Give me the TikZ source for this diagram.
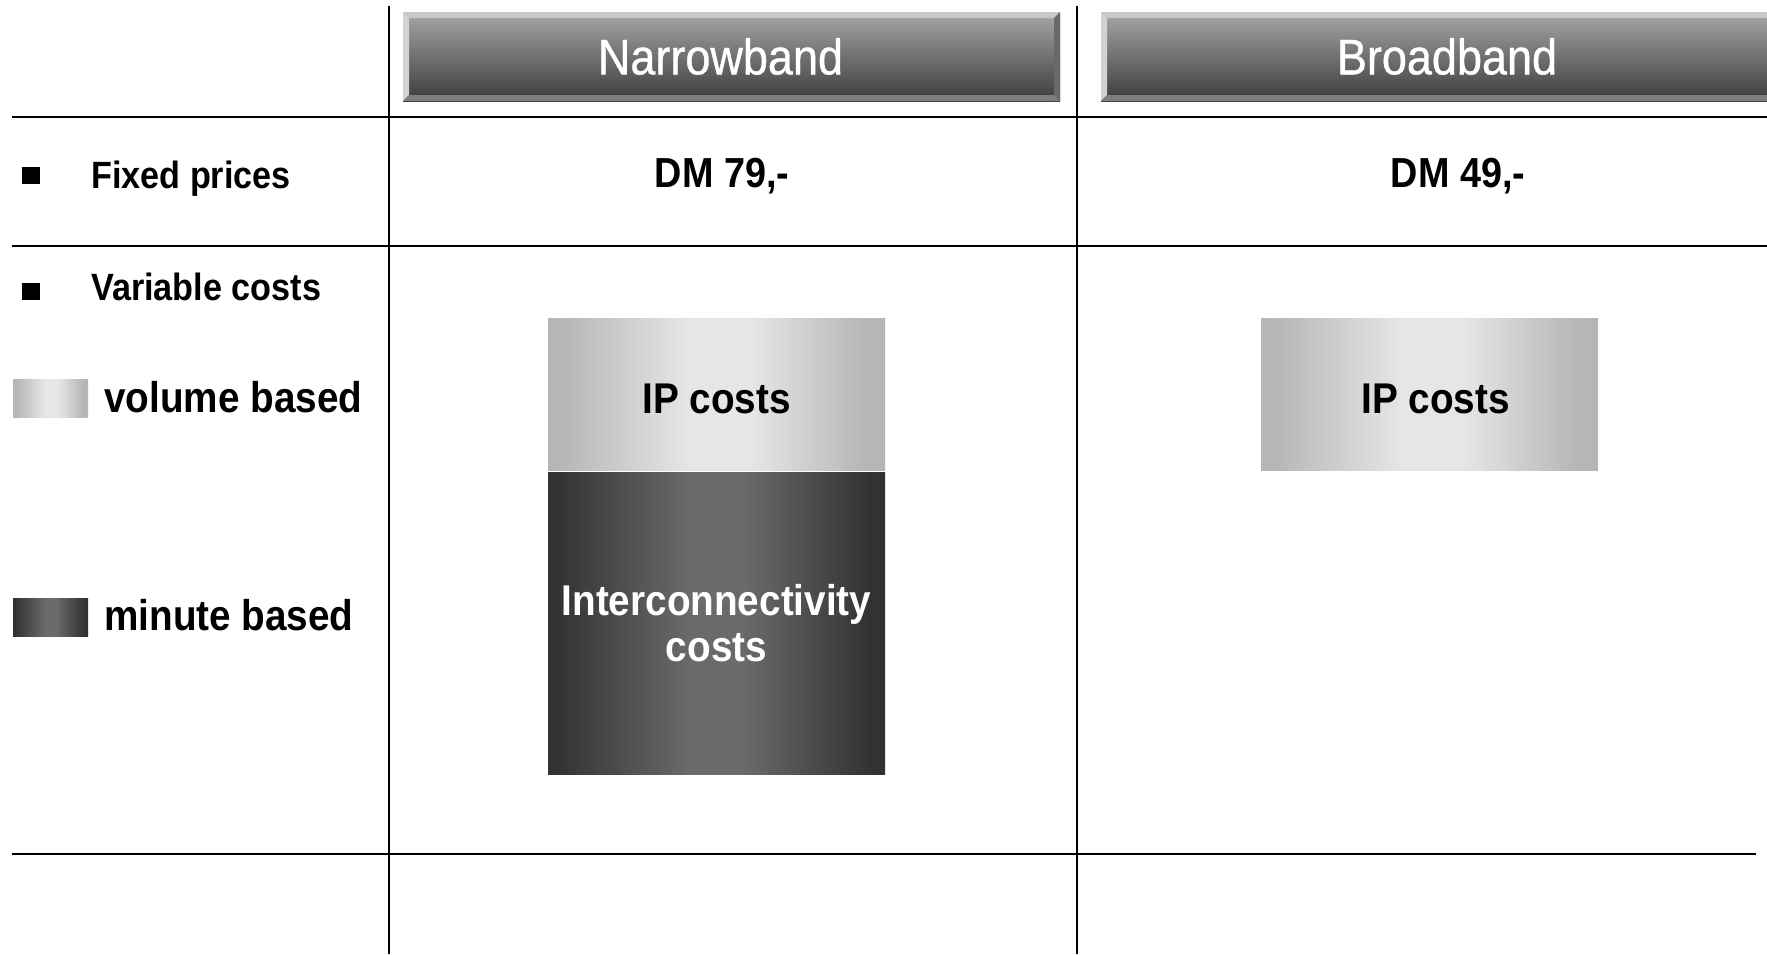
\documentclass[tikz,border=0pt]{standalone}
\usepackage{fontspec}
\setmainfont{Liberation Sans}[FakeStretch=0.9]
\newfontfamily\hdrfont{Liberation Sans}[FakeStretch=0.9, FakeBold=0.8]
\usetikzlibrary{positioning}
\definecolor{hdrtop}{RGB}{166,166,166}
\definecolor{hdrbot}{RGB}{60,60,60}
\definecolor{bevtop}{RGB}{200,200,200}
\definecolor{bevleft}{RGB}{210,210,210}
\definecolor{bevbot}{RGB}{125,125,125}
\definecolor{bevright}{RGB}{105,105,105}
\definecolor{ipedge}{RGB}{182,182,182}
\definecolor{ipmid}{RGB}{230,230,230}
\definecolor{icedge}{RGB}{50,50,50}
\definecolor{icmid}{RGB}{106,106,106}

\pgfdeclarehorizontalshading{volshade}{100bp}{color(0bp)=(ipedge); color(27bp)=(ipedge);
  color(46bp)=(ipmid); color(55bp)=(ipmid); color(72bp)=(ipedge); color(100bp)=(ipedge)}
\pgfdeclarehorizontalshading{minshade}{100bp}{color(0bp)=(icedge); color(26bp)=(icedge);
  color(46bp)=(icmid); color(54bp)=(icmid); color(73bp)=(icedge); color(100bp)=(icedge)}

\tikzset{
  gridline/.style={line width=2.5pt, black},
  hdrbox/.style={minimum height=89pt, inner sep=0pt, top color=hdrtop, bottom color=hdrbot,
    text=white, font=\hdrfont\fontsize{50}{56}\selectfont,
    path picture={
      \fill[bevtop] (path picture bounding box.north west) -- (path picture bounding box.north east)
        -- ([xshift=-6pt,yshift=-6pt]path picture bounding box.north east)
        -- ([xshift=6pt,yshift=-6pt]path picture bounding box.north west) -- cycle;
      \fill[bevleft] (path picture bounding box.north west) -- (path picture bounding box.south west)
        -- ([xshift=6pt,yshift=6pt]path picture bounding box.south west)
        -- ([xshift=6pt,yshift=-6pt]path picture bounding box.north west) -- cycle;
      \fill[bevbot] (path picture bounding box.south west) -- (path picture bounding box.south east)
        -- ([xshift=-6pt,yshift=6pt]path picture bounding box.south east)
        -- ([xshift=6pt,yshift=6pt]path picture bounding box.south west) -- cycle;
      \fill[bevright] (path picture bounding box.north east) -- (path picture bounding box.south east)
        -- ([xshift=-6pt,yshift=6pt]path picture bounding box.south east)
        -- ([xshift=-6pt,yshift=-6pt]path picture bounding box.north east) -- cycle;
    }},
  rowlabel/.style={anchor=base west, inner sep=0pt, font=\bfseries\fontsize{38}{42}\selectfont},
  bulletsq/.style={fill=black, inner sep=0pt, minimum width=18pt, minimum height=17pt},
  legendtxt/.style={anchor=base west, inner sep=0pt, font=\bfseries\fontsize{43}{47}\selectfont},
  price/.style={anchor=base, inner sep=0pt, font=\bfseries\fontsize{42}{46}\selectfont},
  volbox/.style={inner sep=0pt, shading=volshade},
  minbox/.style={inner sep=0pt, shading=minshade},
  costtxt/.style={align=center, font=\bfseries\fontsize{43}{46}\selectfont}
}

\begin{document}
\begin{tikzpicture}[x=1pt, y=-1pt]
  \useasboundingbox (0,0) rectangle (1767,954);

  % table rules
  \draw[gridline] (389,6) -- (389,954);
  \draw[gridline] (1077,6) -- (1077,954);
  \draw[gridline] (12,117) -- (1767,117);
  \draw[gridline] (12,246) -- (1767,246);
  \draw[gridline] (12,854) -- (1756,854);

  % column heads
  \node[hdrbox, minimum width=657pt] (narrow) at (731.5,56.5) {\hspace*{-22pt}Narrowband};
  \node[hdrbox, minimum width=692pt] (broad) at (1447,56.5) {Broadband};

  % row heads
  \node[bulletsq] (fixbul) at (31,175) {};
  \node[rowlabel] (fixed) at (91,188) {Fixed prices};
  \node[bulletsq] (varbul) at (31,291) {};
  \node[rowlabel] (variable) at (91,300) {Variable costs};

  % legend
  \node[volbox, minimum width=75pt, minimum height=38pt] (volkey) at (50.5,398) {};
  \node[legendtxt] (voltxt) at (104,412) {volume based};
  \node[minbox, minimum width=75pt, minimum height=38pt] (minkey) at (50.5,617) {};
  \node[legendtxt] (mintxt) at (104,630) {minute based};

  % fixed prices
  \node[price] (nbprice) at (722,187) {DM 79,-};
  \node[price] (bbprice) at (1458,187) {DM 49,-};

  % variable costs
  \node[volbox, costtxt, text height=38pt, text depth=0pt, minimum width=337pt,
        minimum height=152pt] (nbip) at (716.5,394) {IP costs};
  \node[minbox, costtxt, text=white, minimum width=337pt, minimum height=302pt,
        below=2pt of nbip] (nbic) {Interconnectivity\\costs};
  \node[volbox, costtxt, text height=38pt, text depth=0pt, minimum width=337pt,
        minimum height=152pt] (bbip) at (1429.5,394) {\hspace*{12pt}IP costs};
\end{tikzpicture}
\end{document}
